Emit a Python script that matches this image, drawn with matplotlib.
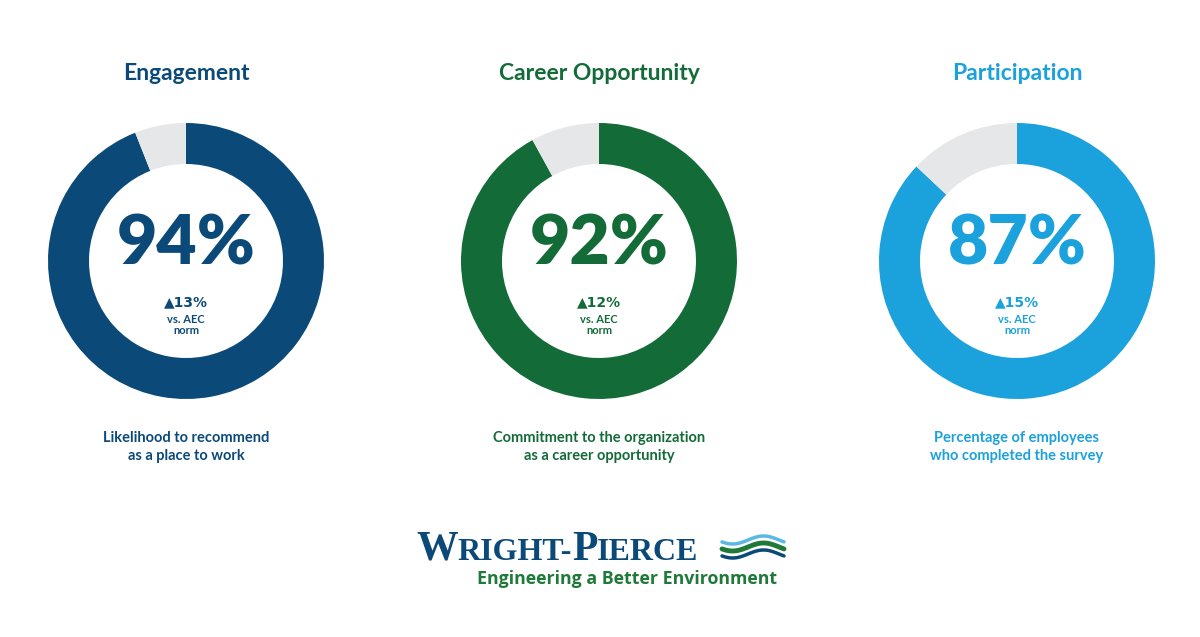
import numpy as np
import matplotlib.pyplot as plt

titles = ["Engagement", "Career Opportunity", "Participation"]
values = [94, 92, 87]
deltas = ["13%", "12%", "15%"]
captions = [
    "Likelihood to recommend\nas a place to work",
    "Commitment to the organization\nas a career opportunity",
    "Percentage of employees\nwho completed the survey",
]
colors = ["#0b4a78", "#136b38", "#1ba1dc"]
centers_x = [186, 599, 1017]
logo_parts = [("W", 30), ("RIGHT-", 23), ("P", 30), ("IERCE", 23)]
GRAY = "#e6e7e8"
H = 637

fig = plt.figure(figsize=(12, 6.37), dpi=100)
ax = fig.add_axes([0, 0, 1, 1])

font = "Lato"
for title, val, delta, cap, col, cx in zip(titles, values, deltas, captions, colors, centers_x):
    cy = H - 261
    ax.pie([val, 100 - val], colors=[col, GRAY], startangle=90, counterclock=False,
           center=(cx, cy), radius=138, wedgeprops=dict(width=41, linewidth=0), frame=True)
    ax.text(cx, H - 73, title, ha="center", va="center", color=col, fontsize=16.5,
            fontweight="bold", family=font)
    ax.text(cx, H - 245, f"{val}%", ha="center", va="center", color=col, fontsize=50,
            fontweight="heavy", family=font)
    ax.text(cx, H - 302, f"\u25b2{delta}", ha="center", va="center", color=col, fontsize=10,
            fontweight="bold", family=["DejaVu Sans"])
    ax.text(cx, H - 325, "vs. AEC\nnorm", ha="center", va="center", color=col, fontsize=8,
            fontweight="bold", family=font, linespacing=1.0)
    ax.text(cx, H - 447, cap, ha="center", va="center", color=col, fontsize=10.5,
            fontweight="bold", family=font, linespacing=1.3)

ax.set_xlim(0, 1200)
ax.set_ylim(0, H)
ax.set_aspect("equal")
ax.axis("off")

# logo: chain the text pieces left to right
renderer = fig.canvas.get_renderer()
x = 416
for part, size in logo_parts:
    t = ax.text(x, H - 560, part, ha="left", va="baseline", color="#0b4a78", fontsize=size,
                family="Liberation Serif", fontweight="bold")
    bb = t.get_window_extent(renderer)
    x += bb.width * 1200 / fig.bbox.width
ax.text(477, H - 579, "Engineering a Better Environment", ha="left", va="center",
        color="#1f7a3a", fontsize=12.8, family="Open Sans", fontweight="bold")
tt = np.linspace(0, 1, 50)
wx = 722 + 62 * tt
for off, col, lw in [(0, "#5bb8e6", 2.5), (7, "#1f7a3a", 3.5), (14, "#0b4a78", 2.5)]:
    wy = H - (540 + off + 4 * np.sin(2 * np.pi * tt + 0.5))
    ax.plot(wx, wy, color=col, lw=lw, solid_capstyle="round")

fig.savefig("out.png", dpi=100)
